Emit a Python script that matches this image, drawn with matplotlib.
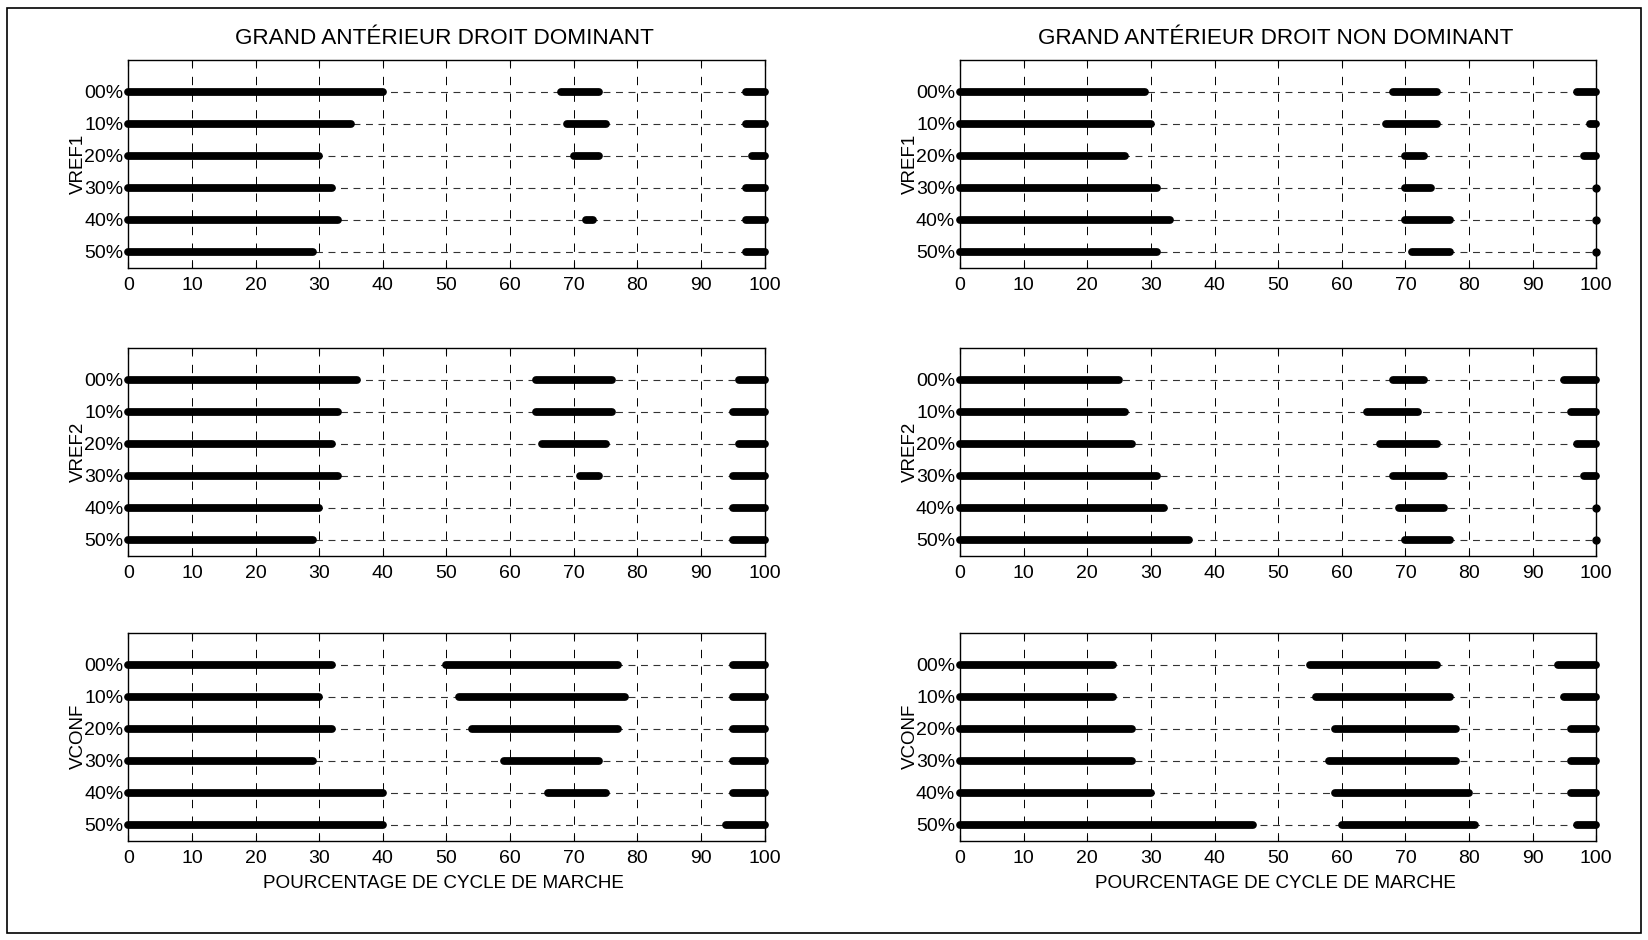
import matplotlib
matplotlib.use("Agg")
import matplotlib.pyplot as plt
from matplotlib.patches import Rectangle

plt.rcParams['font.family'] = ['Liberation Sans', 'DejaVu Sans']
plt.rcParams['lines.scale_dashes'] = False

# ---------------- data ----------------
ROW_LABELS = ['00%', '10%', '20%', '30%', '40%', '50%']
X_TICKS = [0, 10, 20, 30, 40, 50, 60, 70, 80, 90, 100]
TITLES = ['GRAND ANTÉRIEUR DROIT DOMINANT', 'GRAND ANTÉRIEUR DROIT NON DOMINANT']
YLABELS = ['VREF1', 'VREF2', 'VCONF']
XLABEL = 'POURCENTAGE DE CYCLE DE MARCHE'

# activation intervals (start, end) in % of gait cycle, one list per row (00% .. 50%)
dom_vref1 = [
    [(0, 40), (68, 74), (97, 100)],
    [(0, 35), (69, 75), (97, 100)],
    [(0, 30), (70, 74), (98, 100)],
    [(0, 32), (97, 100)],
    [(0, 33), (72, 73), (97, 100)],
    [(0, 29), (97, 100)],
]
nondom_vref1 = [
    [(0, 29), (68, 75), (97, 100)],
    [(0, 30), (67, 75), (99, 100)],
    [(0, 26), (70, 73), (98, 100)],
    [(0, 31), (70, 74), (100, 100)],
    [(0, 33), (70, 77), (100, 100)],
    [(0, 31), (71, 77), (100, 100)],
]
dom_vref2 = [
    [(0, 36), (64, 76), (96, 100)],
    [(0, 33), (64, 76), (95, 100)],
    [(0, 32), (65, 75), (96, 100)],
    [(0, 33), (71, 74), (95, 100)],
    [(0, 30), (95, 100)],
    [(0, 29), (95, 100)],
]
nondom_vref2 = [
    [(0, 25), (68, 73), (95, 100)],
    [(0, 26), (64, 72), (96, 100)],
    [(0, 27), (66, 75), (97, 100)],
    [(0, 31), (68, 76), (98, 100)],
    [(0, 32), (69, 76), (100, 100)],
    [(0, 36), (70, 77), (100, 100)],
]
dom_vconf = [
    [(0, 32), (50, 77), (95, 100)],
    [(0, 30), (52, 78), (95, 100)],
    [(0, 32), (54, 77), (95, 100)],
    [(0, 29), (59, 74), (95, 100)],
    [(0, 40), (66, 75), (95, 100)],
    [(0, 40), (94, 100)],
]
nondom_vconf = [
    [(0, 24), (55, 75), (94, 100)],
    [(0, 24), (56, 77), (95, 100)],
    [(0, 27), (59, 78), (96, 100)],
    [(0, 27), (58, 78), (96, 100)],
    [(0, 30), (59, 80), (96, 100)],
    [(0, 46), (60, 81), (97, 100)],
]

PANELS = [
    [dom_vref1, nondom_vref1],
    [dom_vref2, nondom_vref2],
    [dom_vconf, nondom_vconf],
]

# ---------------- figure ----------------
W, H = 1649, 940
fig = plt.figure(figsize=(W / 100, H / 100), dpi=100)

col_left = [128.3, 960.0]
ax_w = 636.3
row_top = [59.5, 347.7, 632.7]
ax_h = 208.0

n = len(ROW_LABELS)
ypos = [n - i for i in range(n)]  # 00% at top

for r in range(3):
    for c in range(2):
        ax = fig.add_axes([col_left[c] / W, 1 - (row_top[r] + ax_h) / H, ax_w / W, ax_h / H])
        ax.set_xlim(0, 100)
        ax.set_ylim(0.5, n + 1)
        # vertical grid
        for xt in X_TICKS[1:-1]:
            ax.axvline(xt, color='black', lw=0.7, ls=(0, (6, 6)), zorder=1)
        data = PANELS[r][c]
        for i, segs in enumerate(data):
            y = ypos[i]
            ax.plot([0, 100], [y, y], color='0.2', lw=0.8, ls=(0, (5, 4)), zorder=2)
            for (a, b) in segs:
                if a == b:
                    ax.plot([a], [y], marker='o', ms=5.0, color='black', mec='black',
                            clip_on=False, zorder=4)
                else:
                    ax.plot([a, b], [y, y], color='black', lw=5.6, solid_capstyle='round',
                            clip_on=False, zorder=3)
        ax.set_xticks(X_TICKS)
        ax.set_xticklabels([str(v) for v in X_TICKS])
        ax.set_yticks(ypos)
        ax.set_yticklabels(ROW_LABELS)
        ax.tick_params(axis='both', direction='in', length=4, width=0.8,
                       labelsize=14, top=True, right=True, colors='black')
        ax.tick_params(axis='x', pad=6.5)
        ax.tick_params(axis='y', pad=3.5, length=0)
        for s in ax.spines.values():
            s.set_linewidth(1.0)
            s.set_color('black')
        ax.text(-0.078, 0.5, YLABELS[r], rotation=90, ha='center', va='center',
                fontsize=13.5, transform=ax.transAxes)
        if r == 0:
            fig.text((col_left[c] + ax_w / 2 - 2) / W, 1 - 38.5 / H, TITLES[c],
                     ha='center', va='center', fontsize=16.2)
        if r == 2:
            fig.text((col_left[c] + ax_w / 2 - 3) / W, 1 - 883 / H, XLABEL,
                     ha='center', va='center', fontsize=13.6)

fig.patches.append(Rectangle((7.5 / W, 7.5 / H), (W - 15) / W, (H - 15) / H, transform=fig.transFigure,
                             fill=False, lw=1.2, ec='black'))

fig.savefig('out.png', dpi=100, facecolor='white')
